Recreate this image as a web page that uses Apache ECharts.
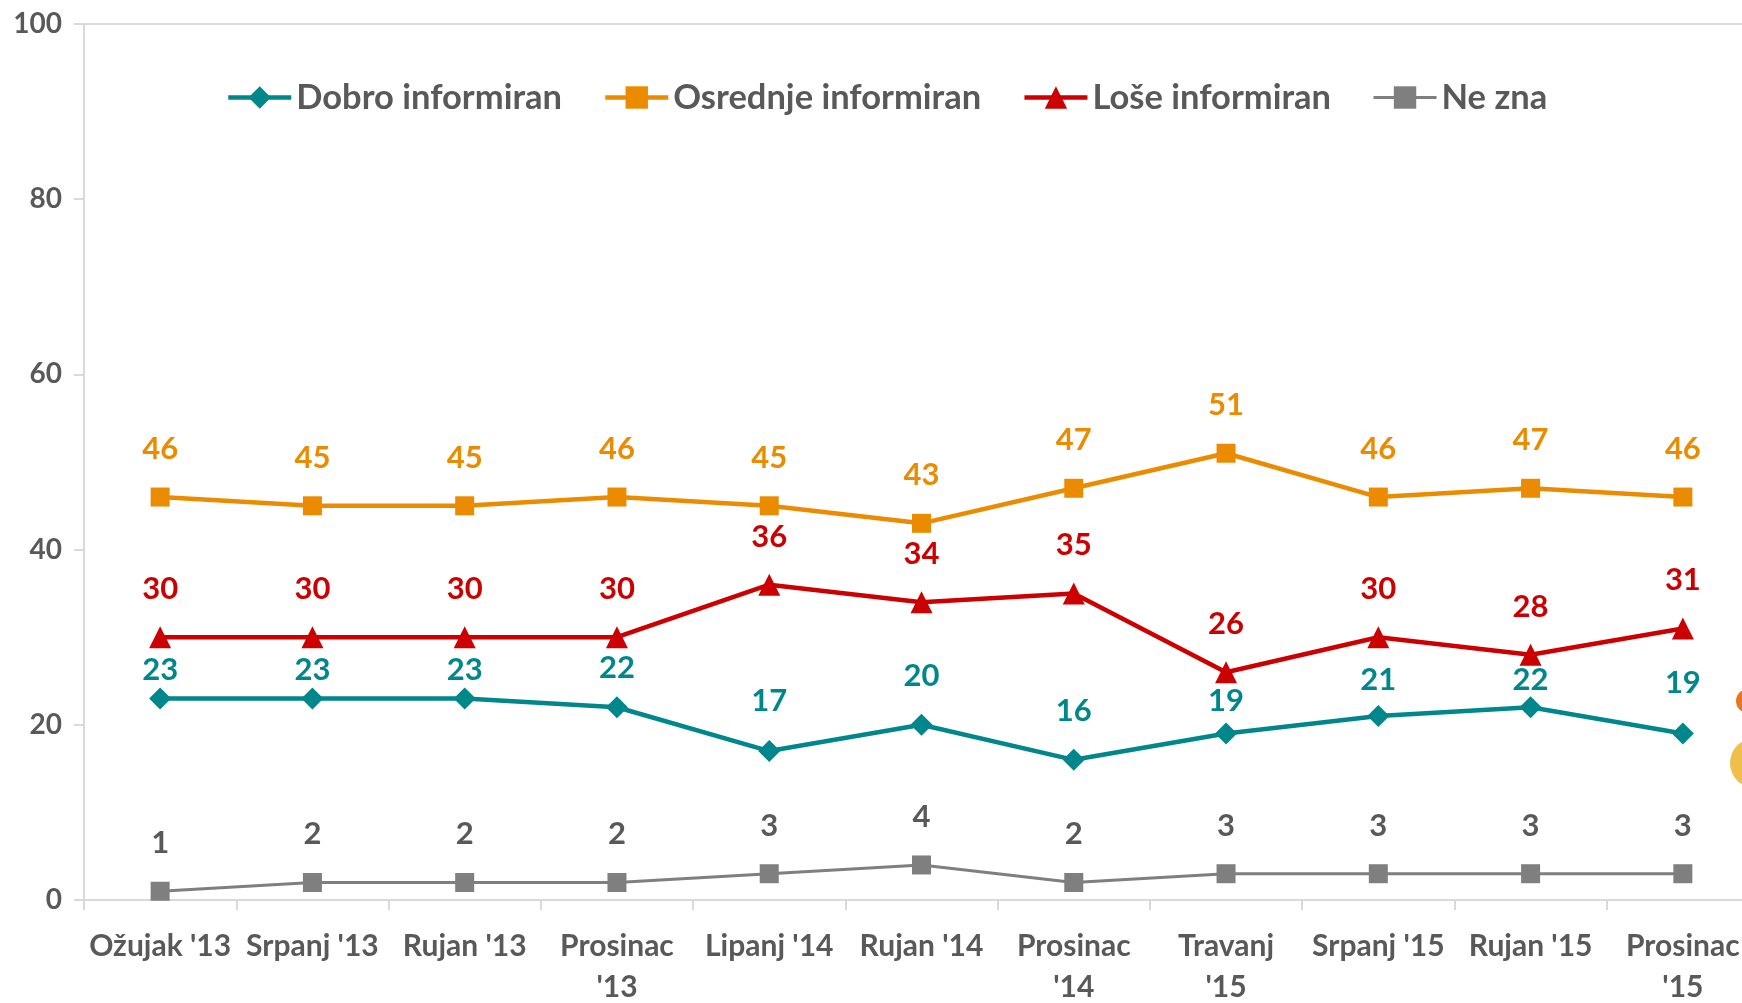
<!DOCTYPE html>
<html>
<head>
<meta charset="utf-8">
<script src="https://cdn.jsdelivr.net/npm/echarts@6/dist/echarts.min.js"></script>
<style>
html,body{margin:0;padding:0;background:#fff;}
#chart{width:1742px;height:1003px;}
</style>
</head>
<body>
<div id="chart"></div>
<script>
const categories = ["Ožujak '13","Srpanj '13","Rujan '13","Prosinac\n'13","Lipanj '14","Rujan '14","Prosinac\n'14","Travanj\n'15","Srpanj '15","Rujan '15","Prosinac\n'15"];
const seriesNames = ["Dobro informiran","Osrednje informiran","Loše informiran","Ne zna"];
const dobro = [23,23,23,22,17,20,16,19,21,22,19];
const osrednje = [46,45,45,46,45,43,47,51,46,47,46];
const lose = [30,30,30,30,36,34,35,26,30,28,31];
const neZna = [1,2,2,2,3,4,2,3,3,3,3];
const yTicks = [0,20,40,60,80,100];

// label layout (pixel lift of label centre above point), kept apart from data
const dobroLift = [29,29,29,39,50,49,49,33,36,27,51];
const lineWidths = [4.5,4.5,4.5,3];
const FONT = 'Lato, "Open Sans", sans-serif';

function withLift(values, lifts, uniform){
  return values.map((v,i)=>({value:v,label:{offset:[0,-(lifts ? lifts[i] : uniform)]}}));
}

function mk(name, values, color, symbol, size, width, labelColor, lifts){
  return {
    name, type:'line', data: withLift(values, lifts, 48),
    symbol, symbolSize:size, color,
    lineStyle:{color, width},
    itemStyle:{color},
    label:{show:true, position:'inside', color:labelColor, fontFamily:FONT, fontWeight:'bold', fontSize:31},
    emphasis:{disabled:true}, animation:false, z:3
  };
}

const chart = echarts.init(document.getElementById('chart'));
chart.setOption({
  backgroundColor:'#fff',
  animation:false,
  textStyle:{fontFamily:FONT},
  grid:{left:84, top:24, width:1675, height:876, containLabel:false, outerBoundsMode:'none'},
  legend:{
    left:226, top:80, padding:0, itemGap:41, itemWidth:63, itemHeight:28,
    data: seriesNames.map((n,i)=>({name:n, lineStyle:{width:lineWidths[i]}})),
    textStyle:{fontFamily:FONT, fontWeight:'bold', fontSize:34.5, color:'#595959'}
  },
  xAxis:{
    type:'category', data:categories, boundaryGap:true,
    axisLine:{lineStyle:{color:'#d9d9d9', width:2}},
    axisTick:{show:true, length:10, lineStyle:{color:'#d9d9d9', width:2}},
    axisLabel:{margin:26, color:'#595959', fontFamily:FONT, fontWeight:'bold', fontSize:30, lineHeight:41, interval:0}
  },
  yAxis:{
    type:'value', min:0, max:100, interval:20,
    axisLine:{show:true, lineStyle:{color:'#d9d9d9', width:2}},
    axisTick:{show:true, length:10, lineStyle:{color:'#d9d9d9', width:2}},
    axisLabel:{margin:22, color:'#595959', fontFamily:FONT, fontWeight:'bold', fontSize:28,
      formatter:(v)=> yTicks.includes(v) ? String(v) : ''},
    splitLine:{show:true, lineStyle:{color:['transparent','transparent','transparent','transparent','transparent','#d9d9d9'], width:2}}
  },
  graphic:[
    {type:'circle', shape:{cx:1748, cy:701, r:12}, style:{fill:'#E87722'}, silent:true},
    {type:'circle', shape:{cx:1755, cy:763, r:25}, style:{fill:'#F0BE4B'}, silent:true}
  ],
  series:[
    mk(seriesNames[0], dobro, '#00878C', 'diamond', 22, lineWidths[0], '#00878C', dobroLift),
    mk(seriesNames[1], osrednje, '#EB8C00', 'rect', 19, lineWidths[1], '#EB8C00', null),
    mk(seriesNames[2], lose, '#CC0000', 'triangle', 22, lineWidths[2], '#CC0000', null),
    mk(seriesNames[3], neZna, '#7F7F7F', 'rect', 19, lineWidths[3], '#595959', null)
  ]
});
</script>
</body>
</html>
